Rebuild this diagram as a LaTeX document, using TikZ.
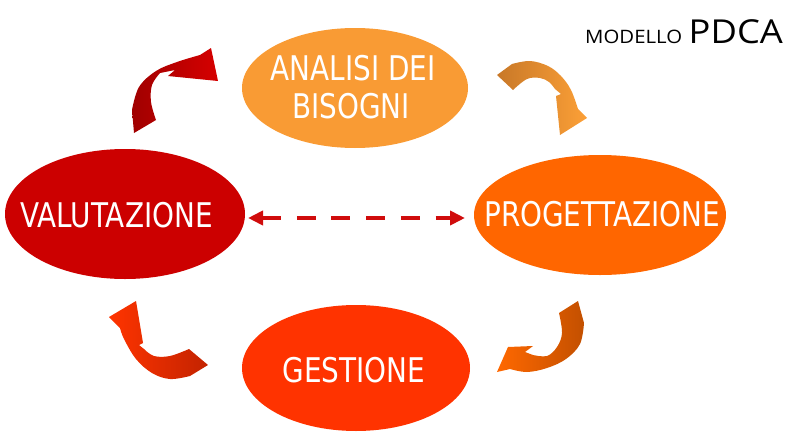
\documentclass[tikz,border=0pt]{standalone}
\usepackage{fontspec}
\usetikzlibrary{shapes.geometric,arrows.meta}
\newfontfamily\labfont[FakeStretch=0.82]{DejaVu Sans}
\newfontfamily\titfont[FakeStretch=1.1]{Open Sans}
\definecolor{cAnalisi}{RGB}{249,155,52}
\definecolor{cProg}{RGB}{255,102,0}
\definecolor{cVal}{RGB}{204,0,0}
\definecolor{cGest}{RGB}{255,51,0}
\definecolor{cDash}{RGB}{208,12,12}
\definecolor{aOneDark}{RGB}{160,0,0}
\definecolor{aOneBright}{RGB}{214,0,0}
\definecolor{aTwoDark}{RGB}{200,120,40}
\definecolor{aTwoBright}{RGB}{252,160,55}
\definecolor{aThreeDark}{RGB}{195,80,0}
\definecolor{aThreeBright}{RGB}{255,104,0}
\definecolor{aFourDark}{RGB}{195,35,0}
\definecolor{aFourBright}{RGB}{255,52,0}
\tikzset{
  blob/.style={ellipse, inner sep=0pt, outer sep=0pt},
  lab/.style={text=white, inner sep=0pt, anchor=base, font=\labfont\fontsize{34}{38}\selectfont},
  tit/.style={text=black, inner sep=0pt, anchor=base west},
  dasharrow/.style={cDash, line width=4pt, dash pattern=on 19pt off 15.7pt,
    {Triangle[length=15pt,width=14pt]}-{Triangle[length=15pt,width=14pt]}},
}
\begin{document}
\begin{tikzpicture}[x=1pt,y=-1pt]
\useasboundingbox (0,0) rectangle (787,431);

% ellipses
\node[blob, fill=cAnalisi, minimum width=226pt, minimum height=120pt] (analisi) at (355,88) {};
\node[blob, fill=cProg, minimum width=252pt, minimum height=120pt] (prog) at (600,215) {};
\node[blob, fill=cVal, minimum width=240pt, minimum height=130pt] (val) at (125,214) {};
\node[blob, fill=cGest, minimum width=228pt, minimum height=126pt] (gest) at (356,368) {};

% labels
\node[lab] (an1) at (353,80) {ANALISI DEI};
\node[lab] (an2) at (351,118) {BISOGNI};
\node[lab] (progt) at (602,226.7) {PROGETTAZIONE};
\node[lab] (valt) at (116.5,227) {VALUTAZIONE};
\node[lab] (gestt) at (354,382) {GESTIONE};

% title
\node[tit, font=\titfont\fontsize{18.5}{18.5}\selectfont] (mod) at (585,43.5) {MODELLO};
\node[tit, font=\titfont\fontsize{33}{33}\selectfont] (pdca) at (688.5,43.5) {PDCA};

% dashed double arrow
\draw[dasharrow] ([xshift=3pt,yshift=-4pt]val.east) -- ([xshift=-9pt,yshift=-3pt]prog.west);

% curved arrow 1 (top left)
\shade[left color=aOneDark, right color=aOneBright]
  (134,133) -- plot[smooth, tension=0.6] coordinates {(132,110) (139,87) (156,71) (177,62) (200,55)}
  -- (211,48) -- (218,81) -- (168,76) -- (175,70)
  -- plot[smooth, tension=0.6] coordinates {(160,73) (152,85) (151,102) (156,120)} -- cycle;

% curved arrow 2 (top right)
\shade[left color=aTwoDark, right color=aTwoBright]
  (497,75) -- plot[smooth, tension=0.6] coordinates {(512,64) (530,61) (548,66) (561,76) (571,90) (578,109)}
  -- (587,118) -- (560,135) -- (556,96) -- (561,94)
  -- plot[smooth, tension=0.6] coordinates {(555,89) (549,82) (540,78) (527,79) (513,90)} -- cycle;

% curved arrow 3 (bottom right)
\shade[left color=aThreeBright, right color=aThreeDark]
  (559,313) -- (578,301)
  -- plot[smooth, tension=0.6] coordinates {(584,323) (580,344) (566,359) (547,368) (527,372) (510,369)}
  -- (497,372) -- (508,347) -- (533,346) -- (525,352)
  -- plot[smooth, tension=0.6] coordinates {(533,355) (547,356) (557,347) (562,333) (559,313)} -- cycle;

% curved arrow 4 (bottom left)
\shade[left color=aFourBright, right color=aFourDark]
  (189,349) -- (208,365)
  -- plot[smooth, tension=0.6] coordinates {(190,376) (170,379) (152,373) (136,359) (124,339) (120,328)}
  -- (109,317) -- (136,301) -- (143,343) -- (139,345)
  -- plot[smooth, tension=0.6] coordinates {(144,349) (154,356) (170,356) (189,349)} -- cycle;
\end{tikzpicture}
\end{document}
